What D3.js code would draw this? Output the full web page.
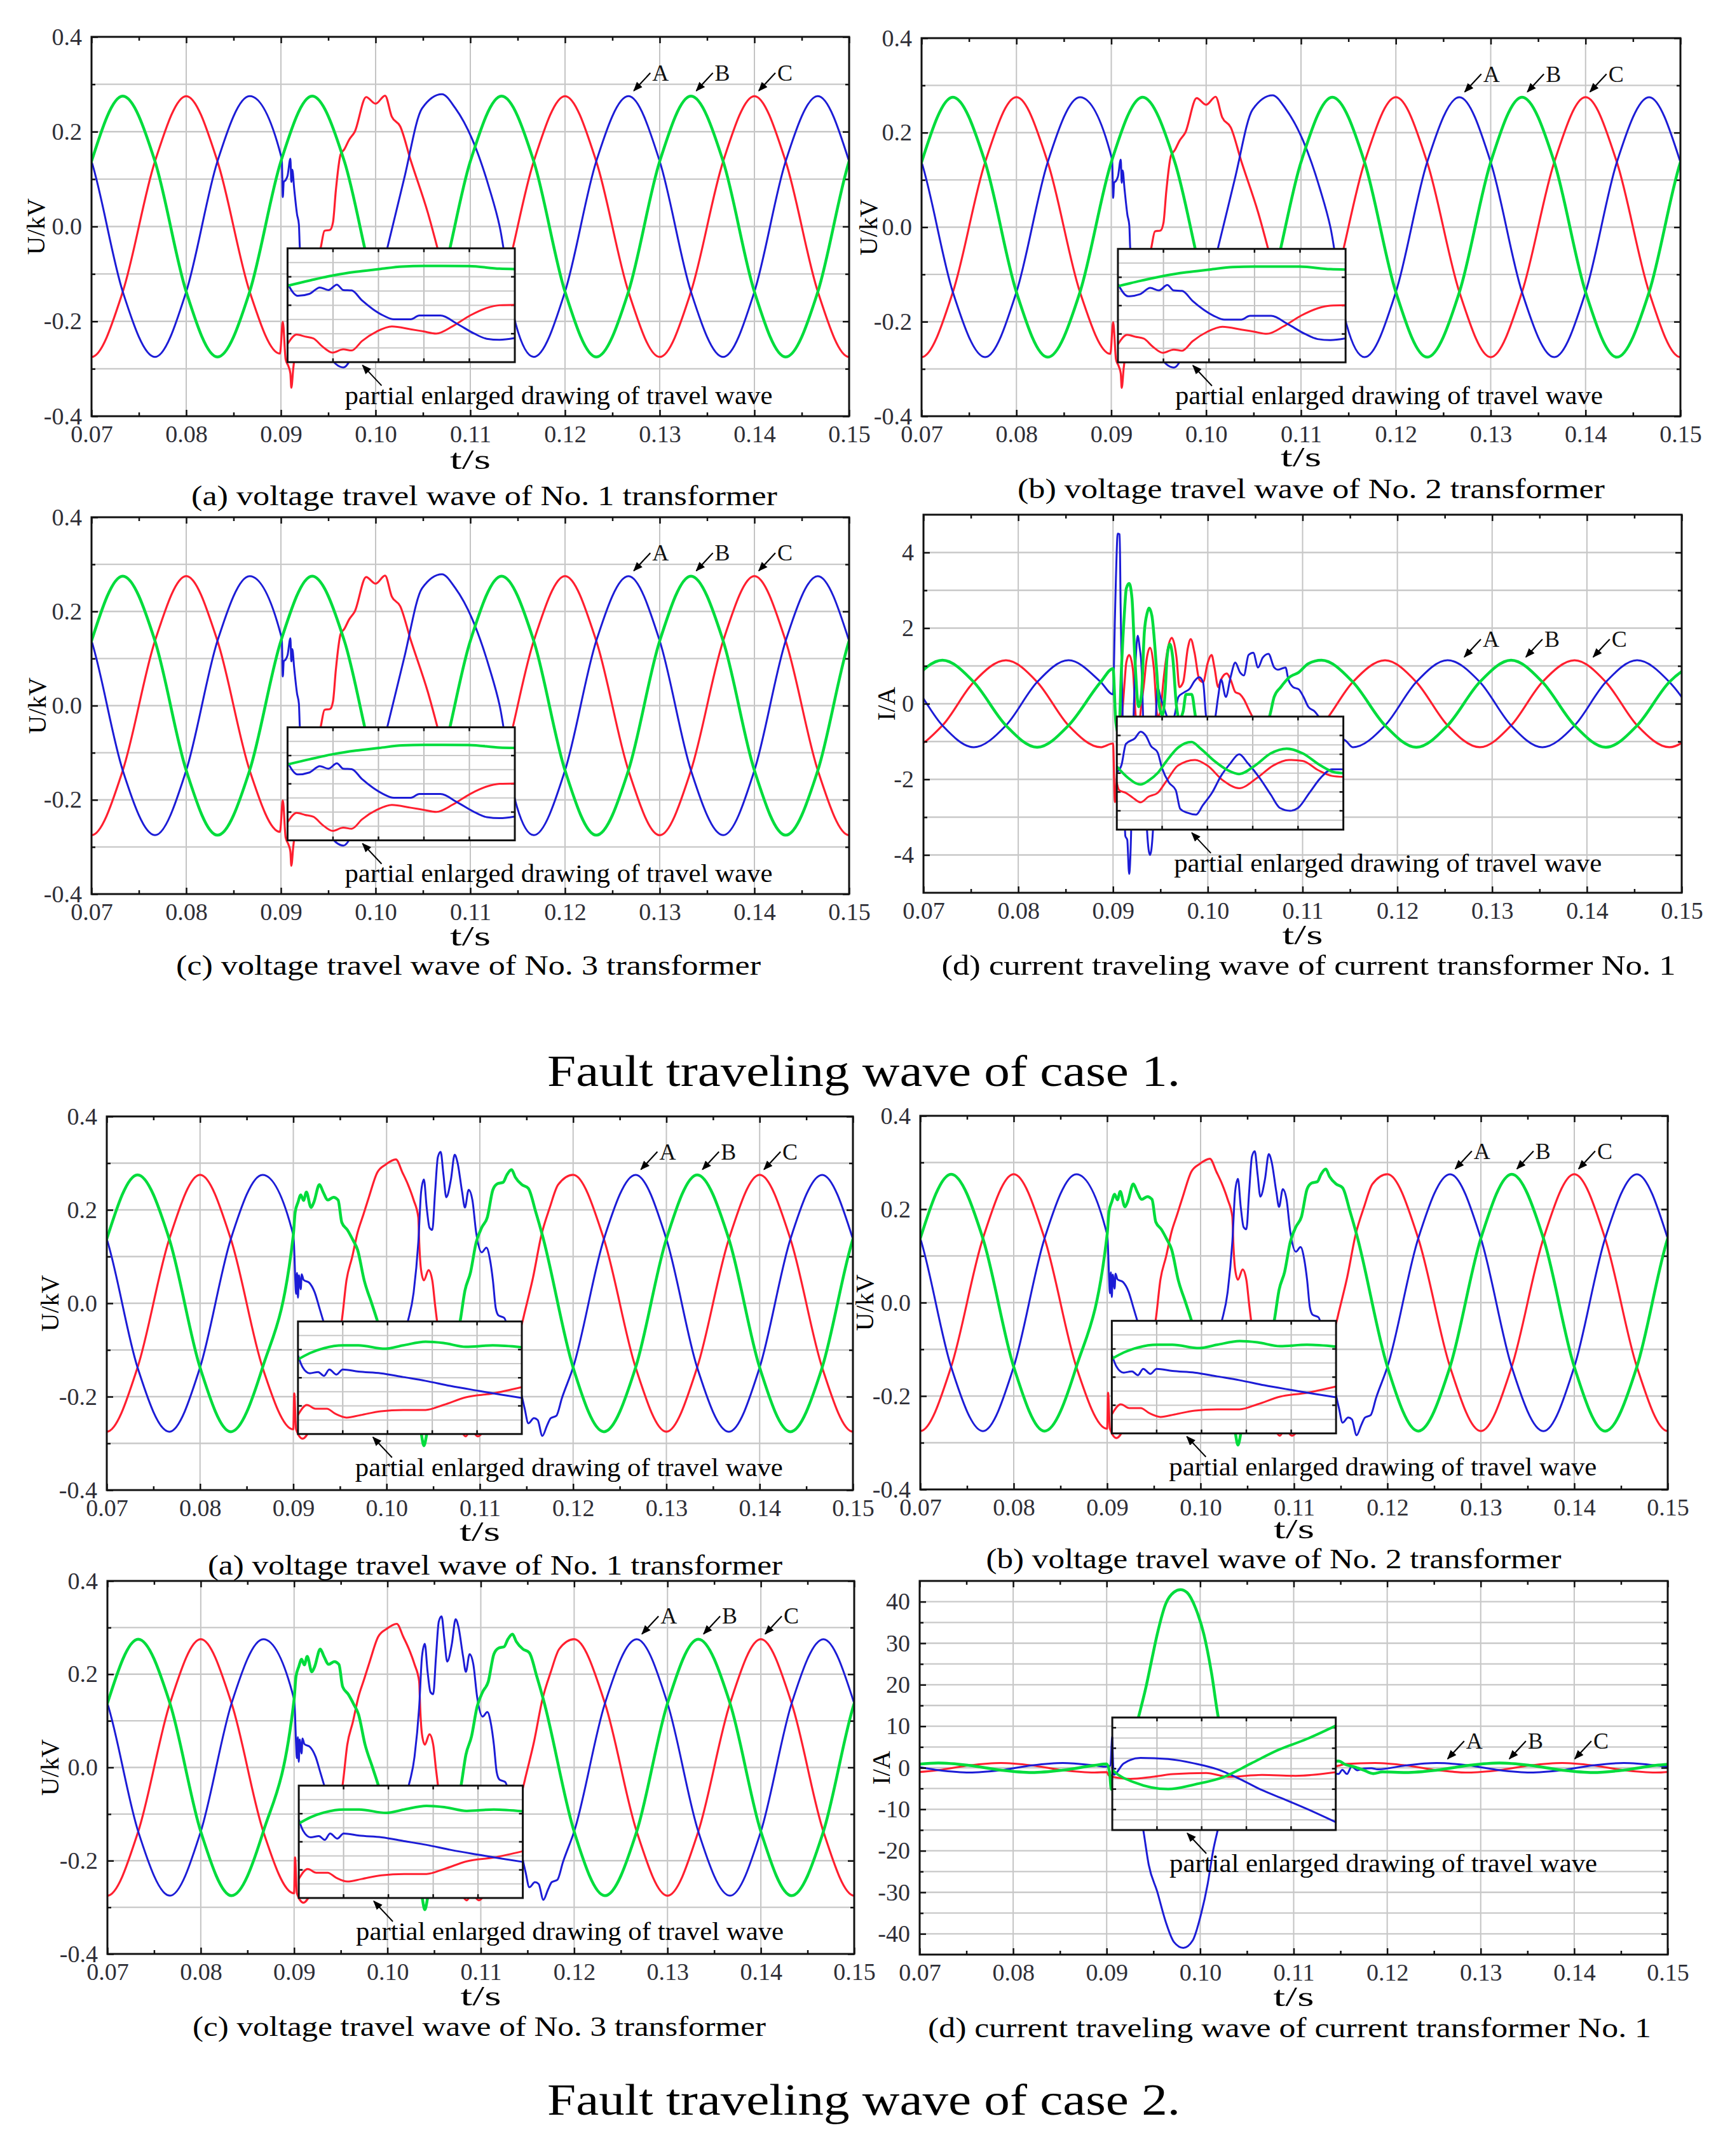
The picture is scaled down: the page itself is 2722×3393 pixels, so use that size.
<!DOCTYPE html>
<html>
<head>
<meta charset="utf-8">
<script src="https://cdn.jsdelivr.net/npm/d3@7"></script>
<style>
html, body { margin: 0; padding: 0; background: #fff; }
svg { display: block; }
</style>
</head>
<body>
<svg id="fig"></svg>
<script>
// ---- axis ticks ----
var timeTicks = [0.07, 0.08, 0.09, 0.10, 0.11, 0.12, 0.13, 0.14, 0.15];
var timeMinor = [0.075, 0.085, 0.095, 0.105, 0.115, 0.125, 0.135, 0.145];
var voltTicks = [-0.4, -0.2, 0.0, 0.2, 0.4];
var voltMinor = [-0.3, -0.1, 0.1, 0.3];
var voltGrid = [-0.3, -0.2, -0.1, 0.0, 0.1, 0.2, 0.3];
var cur1Ticks = [-4, -2, 0, 2, 4];
var cur1Minor = [-3, -1, 1, 3];
var cur1Grid = [-4, -3, -2, -1, 0, 1, 2, 3, 4];
var cur2Ticks = [-40, -30, -20, -10, 0, 10, 20, 30, 40];
var cur2Minor = [-35, -25, -15, -5, 5, 15, 25, 35];
var cur2Grid = [-40, -35, -30, -25, -20, -15, -10, -5, 0, 5, 10, 15, 20, 25, 30, 35, 40];
var insetCols = [0.2, 0.4, 0.6, 0.8];

// ---- phase labels (A = blue, B = green, C = red) ----
var phaseNames = ["A", "B", "C"];
var voltLabelT = [0.1272, 0.1338, 0.1404];
var voltLabelV = 0.285;
var cur1LabelT = [0.127, 0.1335, 0.1406];
var cur1LabelV = 1.22;
var cur2LabelT = [0.1264, 0.133, 0.14];
var cur2LabelV = 2.0;

// ---- voltage, normal sections [t, kV] ----
var voltPreA = [[0.0667,0.275],[0.07,0.1375],[0.0733,-0.1375],[0.0767,-0.275],[0.08,-0.1375],[0.0833,0.1375],[0.0867,0.275]];
var voltPreB = [[0.0667,-0.1375],[0.07,0.1375],[0.0733,0.275],[0.0767,0.1375],[0.08,-0.1375],[0.0833,-0.275],[0.0867,-0.1375]];
var voltPreC = [[0.0667,-0.1375],[0.07,-0.275],[0.0733,-0.1375],[0.0767,0.1375],[0.08,0.275],[0.0833,0.1375],[0.0867,-0.1375]];
var voltPostA = [[0.12,-0.1375],[0.1233,0.1375],[0.1267,0.275],[0.13,0.1375],[0.1333,-0.1375],[0.1367,-0.275],[0.14,-0.1375],[0.1433,0.1375],[0.1467,0.275],[0.15,0.1375],[0.1533,-0.1375]];
var voltPostB = [[0.12,-0.1375],[0.1233,-0.275],[0.1267,-0.1375],[0.13,0.1375],[0.1333,0.275],[0.1367,0.1375],[0.14,-0.1375],[0.1433,-0.275],[0.1467,-0.1375],[0.15,0.1375],[0.1533,0.275]];
var voltPostC = [[0.12,0.275],[0.1233,0.1375],[0.1267,-0.1375],[0.13,-0.275],[0.1333,-0.1375],[0.1367,0.1375],[0.14,0.275],[0.1433,0.1375],[0.1467,-0.1375],[0.15,-0.275],[0.1533,-0.1375]];

// ---- voltage, case 1 fault section ----
var c1VoltFaultA = [[0.09,0.15],[0.0901,0.138],[0.0902,0.062],[0.0903,0.094],[0.0905,0.098],[0.0907,0.107],[0.091,0.143],[0.0911,0.094],[0.0912,0.12],[0.0914,0.08],[0.0917,0.026],[0.0919,0.004],[0.092,-0.045],[0.0935,-0.2],[0.095,-0.27],[0.0966,-0.297],[0.0985,-0.22],[0.1,-0.14],[0.1013,-0.04],[0.103,0.1],[0.1049,0.249],[0.107,0.279],[0.1084,0.25],[0.1102,0.184],[0.112,0.081],[0.1131,0.0],[0.1148,-0.206],[0.1167,-0.275]];
var c1VoltFaultB = [[0.09,0.1375],[0.0933,0.275],[0.0967,0.1375],[0.1,-0.1375],[0.1033,-0.275],[0.1067,-0.1375],[0.11,0.1375],[0.1133,0.275],[0.1167,0.1375]];
var c1VoltFaultC = [[0.0899,-0.268],[0.0902,-0.201],[0.0905,-0.28],[0.0908,-0.295],[0.091,-0.31],[0.0911,-0.34],[0.0913,-0.3],[0.0925,-0.17],[0.0935,-0.09],[0.0942,-0.045],[0.0946,-0.009],[0.0952,-0.007],[0.0955,0.009],[0.0958,0.076],[0.0963,0.152],[0.0967,0.163],[0.0972,0.183],[0.0978,0.2],[0.099,0.273],[0.1,0.259],[0.101,0.276],[0.1017,0.232],[0.1026,0.211],[0.1037,0.14],[0.1055,0.03],[0.107,-0.08],[0.11,-0.275],[0.1133,-0.1375],[0.1167,0.1375]];

// ---- voltage, case 2 fault section ----
var c2VoltFaultA = [[0.09,0.146],[0.0901,0.114],[0.0902,0.055],[0.0903,0.02],[0.0904,0.065],[0.0905,0.012],[0.0906,0.06],[0.0908,0.03],[0.0909,0.062],[0.0911,0.05],[0.0917,0.044],[0.0923,0.023],[0.0928,-0.01],[0.0932,-0.037],[0.095,-0.15],[0.0967,-0.25],[0.099,-0.2],[0.101,-0.1],[0.1023,-0.037],[0.1029,0.023],[0.1034,0.13],[0.1037,0.238],[0.104,0.265],[0.1043,0.205],[0.1046,0.162],[0.1049,0.157],[0.1052,0.238],[0.1055,0.313],[0.1058,0.324],[0.1061,0.275],[0.1064,0.227],[0.1069,0.265],[0.1073,0.318],[0.1076,0.302],[0.1081,0.238],[0.1084,0.205],[0.1088,0.243],[0.1092,0.221],[0.1096,0.152],[0.1102,0.109],[0.1107,0.119],[0.1111,0.092],[0.1114,0.049],[0.1117,-0.01],[0.112,-0.026],[0.1126,-0.031],[0.1135,-0.1],[0.1143,-0.18],[0.1148,-0.225],[0.1152,-0.257],[0.1158,-0.246],[0.1162,-0.25],[0.1167,-0.284],[0.1172,-0.262],[0.1176,-0.246],[0.1182,-0.241],[0.1188,-0.203]];
var c2VoltFaultB = [[0.09,0.146],[0.0902,0.195],[0.0905,0.216],[0.0908,0.232],[0.0911,0.22],[0.0914,0.238],[0.0919,0.205],[0.0922,0.216],[0.0928,0.254],[0.0932,0.238],[0.0937,0.221],[0.0943,0.227],[0.0948,0.221],[0.0952,0.173],[0.0958,0.157],[0.0964,0.135],[0.0969,0.114],[0.0976,0.049],[0.0984,0.0],[0.099,-0.037],[0.1005,-0.15],[0.102,-0.25],[0.1036,-0.27],[0.104,-0.305],[0.1044,-0.27],[0.106,-0.2],[0.107,-0.12],[0.1079,-0.037],[0.1084,0.027],[0.109,0.066],[0.1096,0.13],[0.1102,0.162],[0.1108,0.184],[0.1114,0.243],[0.1119,0.256],[0.1125,0.259],[0.1129,0.275],[0.1134,0.286],[0.1138,0.27],[0.1145,0.254],[0.1152,0.246],[0.116,0.195],[0.1167,0.146]];
var c2VoltFaultC = [[0.09,-0.27],[0.0901,-0.193],[0.0903,-0.27],[0.091,-0.29],[0.092,-0.26],[0.094,-0.12],[0.0952,-0.037],[0.0957,0.049],[0.0963,0.098],[0.0969,0.152],[0.0975,0.189],[0.0981,0.227],[0.099,0.28],[0.0999,0.297],[0.101,0.308],[0.1017,0.28],[0.1023,0.254],[0.1029,0.221],[0.1034,0.184],[0.1035,0.13],[0.1037,0.071],[0.104,0.049],[0.1045,0.071],[0.1049,0.049],[0.1052,-0.004],[0.1054,-0.037],[0.107,-0.2],[0.1085,-0.285],[0.109,-0.27],[0.1098,-0.285],[0.1105,-0.27],[0.112,-0.2],[0.1135,-0.1],[0.1146,-0.037],[0.1148,-0.02],[0.1157,0.055],[0.1166,0.146],[0.1175,0.205],[0.1184,0.254]];

// ---- current, normal sections [t, A] ----
var curPreA = [[0.0653,1.15],[0.0687,0.575],[0.072,-0.575],[0.0753,-1.15],[0.0787,-0.575],[0.082,0.575],[0.0853,1.15],[0.0887,0.575]];
var curPreB = [[0.0653,-0.575],[0.0687,0.575],[0.072,1.15],[0.0753,0.575],[0.0787,-0.575],[0.082,-1.15],[0.0853,-0.575],[0.0887,0.575]];
var curPreC = [[0.0653,-0.575],[0.0687,-1.15],[0.072,-0.575],[0.0753,0.575],[0.0787,1.15],[0.082,0.575],[0.0853,-0.575],[0.0887,-1.15]];
var curPostA = [[0.1153,-1.15],[0.1187,-0.575],[0.122,0.575],[0.1253,1.15],[0.1287,0.575],[0.132,-0.575],[0.1353,-1.15],[0.1387,-0.575],[0.142,0.575],[0.1453,1.15],[0.1487,0.575],[0.152,-0.575]];
var curPostB = [[0.112,1.15],[0.1153,0.575],[0.1187,-0.575],[0.122,-1.15],[0.1253,-0.575],[0.1287,0.575],[0.132,1.15],[0.1353,0.575],[0.1387,-0.575],[0.142,-1.15],[0.1453,-0.575],[0.1487,0.575],[0.152,1.15]];
var curPostC = [[0.112,-0.575],[0.1153,0.575],[0.1187,1.15],[0.122,0.575],[0.1253,-0.575],[0.1287,-1.15],[0.132,-0.575],[0.1353,0.575],[0.1387,1.15],[0.142,0.575],[0.1453,-0.575],[0.1487,-1.15],[0.152,-0.575]];

// ---- current, case 1 fault section ----
var c1CurFaultA = [[0.09,0.25],[0.0902,2.27],[0.0903,3.27],[0.0905,4.5],[0.0907,4.48],[0.0908,2.6],[0.0909,1.1],[0.0911,-1.5],[0.0913,-3.5],[0.0915,-3.6],[0.0917,-4.5],[0.0919,-3.5],[0.0921,-1],[0.0924,1.2],[0.0926,1.8],[0.0928,1.5],[0.093,1.0],[0.0933,-1.5],[0.0936,-3.4],[0.0939,-4.0],[0.0942,-3.4],[0.0945,-0.5],[0.0947,0.44],[0.095,0.18],[0.0955,-0.2],[0.096,-0.5],[0.0965,-0.3],[0.0969,0.18],[0.0975,0.3],[0.0981,0.4],[0.0986,0.6],[0.0991,0.7],[0.0995,0.57],[0.0998,-0.3],[0.1002,-0.8],[0.1007,-0.5],[0.1011,0.2],[0.1014,0.64],[0.1019,0.18],[0.1024,0.7],[0.1029,1.09],[0.1034,0.83],[0.1038,0.75],[0.1043,1.29],[0.1048,1.35],[0.1053,0.96],[0.1058,1.22],[0.1064,1.32],[0.107,0.96],[0.1074,0.9],[0.1082,0.96],[0.1085,0.64],[0.109,0.44],[0.1096,0.38],[0.1101,0.18],[0.1106,-0.08],[0.1113,-0.21],[0.1117,-0.34],[0.1128,-0.7],[0.1146,-0.99]];
var c1CurFaultB = [[0.09,0.93],[0.0903,-0.5],[0.0906,-0.8],[0.0909,1.0],[0.0912,2.4],[0.0914,3.05],[0.0917,3.18],[0.092,2.79],[0.0923,1.22],[0.0927,-0.08],[0.093,0.25],[0.0933,1.88],[0.0936,2.4],[0.0938,2.53],[0.0941,2.33],[0.0946,0.9],[0.0949,-0.08],[0.0952,-0.3],[0.0955,0.3],[0.0957,1.22],[0.096,1.58],[0.0963,1.22],[0.0967,-0.08],[0.097,-0.4],[0.0974,-0.2],[0.0977,0.25],[0.0983,0.25],[0.0987,-0.34],[0.0995,-0.9],[0.102,-1.4],[0.1045,-1.0],[0.1065,-0.34],[0.107,0.18],[0.1077,0.44],[0.1086,0.7],[0.1096,0.83],[0.1106,1.06]];
var c1CurFaultC = [[0.09,-1.05],[0.0902,-2.6],[0.0905,-1.5],[0.0909,-0.5],[0.0912,0.5],[0.0914,1.09],[0.0917,1.29],[0.0921,0.9],[0.0924,-0.34],[0.0927,-0.6],[0.093,0.0],[0.0933,0.6],[0.0935,1.09],[0.0939,1.48],[0.0943,0.96],[0.0947,-0.34],[0.095,-0.2],[0.0953,0.57],[0.0958,1.48],[0.0962,1.74],[0.0967,1.22],[0.097,0.44],[0.0974,0.57],[0.0979,1.48],[0.0982,1.71],[0.0986,1.35],[0.0991,0.64],[0.0995,0.57],[0.1,1.09],[0.1004,1.29],[0.1007,0.96],[0.1011,0.44],[0.1014,0.64],[0.102,0.8],[0.1024,0.64],[0.1029,0.31],[0.1034,0.25],[0.1038,0.12],[0.1043,-0.14],[0.1047,-0.34],[0.107,-0.9],[0.109,-1.1],[0.1105,-0.9]];

// ---- current, case 2 fault section ----
var c2CurFaultA = [[0.09,0.25],[0.0904,0.5],[0.0906,7.6],[0.0908,5],[0.092,6],[0.093,-5],[0.0939,-14.8],[0.0945,-23.4],[0.0954,-29.8],[0.0963,-37],[0.0972,-42],[0.0982,-43.4],[0.0992,-41.6],[0.1001,-35.2],[0.1008,-28],[0.1014,-19.8],[0.1019,-14.8],[0.103,-5],[0.107,-1],[0.111,-0.5],[0.1148,-1.5],[0.1152,-0.5],[0.1157,-1.5],[0.1162,0.3],[0.1168,-0.6],[0.1175,-0.2],[0.1183,-0.1],[0.119,-0.4]];
var c2CurFaultB = [[0.09,0.93],[0.0903,-1],[0.0905,-5.2],[0.0908,-4],[0.0915,0],[0.0925,5],[0.0936,13.9],[0.0942,19.4],[0.0948,25.8],[0.0954,32.1],[0.0963,39.4],[0.0972,42.3],[0.0979,42.9],[0.0986,42.2],[0.0995,38.5],[0.1004,32.1],[0.1012,23],[0.1019,12.6],[0.103,3],[0.107,-0.5],[0.111,0.5],[0.1148,1.6],[0.1155,0.8],[0.1165,0.2],[0.1175,-0.6],[0.1185,-1.4],[0.1195,-1.0]];
var c2CurFaultC = [[0.09,-1.05],[0.0903,-2],[0.091,-1.5],[0.095,-2],[0.1,-1.2],[0.105,-1.5],[0.11,-1],[0.1148,0.5],[0.1155,0.9]];

// ---- insets: [fraction of width, grid units from bottom] ----
var inC1VoltA = [[0,5.52],[0.045,4.66],[0.096,4.8],[0.142,5.25],[0.18,5.07],[0.217,5.45],[0.245,5.07],[0.282,5.04],[0.328,4.33],[0.375,3.73],[0.421,3.28],[0.468,3.01],[0.542,3.01],[0.58,3.28],[0.673,3.28],[0.747,2.69],[0.821,2.01],[0.877,1.64],[0.933,1.57],[1,1.69]];
var inC1VoltB = [[0,5.37],[0.1,5.75],[0.207,6.12],[0.3,6.35],[0.403,6.54],[0.505,6.72],[0.6,6.76],[0.798,6.75],[0.933,6.57],[1,6.54]];
var inC1VoltC = [[0,1.27],[0.04,1.94],[0.077,1.8],[0.114,1.67],[0.152,1.12],[0.198,0.67],[0.245,0.9],[0.282,0.82],[0.328,1.49],[0.393,2.16],[0.459,2.51],[0.542,2.31],[0.598,2.16],[0.654,2.01],[0.728,2.54],[0.803,3.28],[0.877,3.81],[0.933,4.0],[1,4.03]];
var inC1CurA = [[0,6.1],[0.02,6.8],[0.04,9.1],[0.08,9.7],[0.105,10.4],[0.13,9.9],[0.15,8.9],[0.18,8.2],[0.2,6.5],[0.23,5.0],[0.26,4.2],[0.28,2.2],[0.31,1.8],[0.35,1.6],[0.38,2.6],[0.42,3.9],[0.46,5.7],[0.5,7.0],[0.54,8.0],[0.58,7.0],[0.63,5.5],[0.68,3.7],[0.72,2.3],[0.765,2.0],[0.8,2.3],[0.85,3.9],[0.9,5.5],[0.95,6.4],[1,6.4]];
var inC1CurB = [[0,6.7],[0.04,5.7],[0.105,4.8],[0.14,5.2],[0.18,6.0],[0.22,7.3],[0.27,8.7],[0.33,9.3],[0.37,8.6],[0.43,7.3],[0.49,6.3],[0.54,5.9],[0.61,6.8],[0.68,8.1],[0.75,8.6],[0.82,8.1],[0.9,6.8],[0.96,6.1],[1,6.0]];
var inC1CurC = [[0,5.0],[0.01,4.2],[0.04,3.9],[0.07,3.4],[0.105,2.9],[0.14,3.5],[0.18,3.9],[0.22,5.2],[0.27,6.8],[0.345,7.4],[0.4,6.8],[0.47,5.2],[0.54,4.4],[0.62,5.5],[0.69,6.8],[0.76,7.4],[0.82,7.3],[0.89,6.3],[0.95,5.7],[1,5.6]];
var inC2VoltA = [[0,5.58],[0.02,4.77],[0.053,4.32],[0.09,4.41],[0.116,4.14],[0.14,4.59],[0.172,4.23],[0.2,4.59],[0.27,4.44],[0.37,4.32],[0.47,4.05],[0.57,3.78],[0.68,3.42],[0.81,3.06],[0.91,2.79],[1,2.57]];
var inC2VoltB = [[0,5.3],[0.053,5.75],[0.116,6.1],[0.2,6.3],[0.27,6.3],[0.39,6.06],[0.47,6.3],[0.57,6.56],[0.65,6.47],[0.75,6.2],[0.87,6.3],[1,6.17]];
var inC2VoltC = [[0,1.35],[0.04,2.07],[0.078,1.8],[0.129,1.8],[0.167,1.44],[0.217,1.17],[0.28,1.35],[0.37,1.62],[0.47,1.71],[0.57,1.71],[0.65,2.07],[0.75,2.61],[0.87,2.88],[1,3.33]];
var inC2CurA = [[0,9.1],[0.007,5.4],[0.05,6.5],[0.126,7.05],[0.25,6.94],[0.37,6.5],[0.47,5.94],[0.57,5.0],[0.67,3.9],[0.77,3.0],[0.87,2.07],[1,0.77]];
var inC2CurB = [[0,5.9],[0.007,5.75],[0.1,4.65],[0.25,4.0],[0.37,4.46],[0.5,5.2],[0.62,6.5],[0.74,7.8],[0.87,8.9],[1,10.2]];
var inC2CurC = [[0,5.2],[0.08,5.0],[0.18,5.2],[0.27,5.46],[0.42,5.57],[0.52,5.2],[0.67,5.39],[0.82,5.3],[1,5.65]];

// ---------------------------------------------------------------
var W = 2722, H = 3393;
var FONT = "'Liberation Serif', 'Times New Roman', serif";
var COL = { A: "#1c1cd6", B: "#00dc3c", C: "#ff1f2f" };
var LW = { A: 3, B: 4.5, C: 3.2 };

function series(a, b, c) {
	return [{ phase: "C", data: c }, { phase: "A", data: a }, { phase: "B", data: b }];
}

var fmtVolt = function (d) { return d.toFixed(1); };
var fmtCur = function (d) { return String(d); };

var c1Volt = {
	yDomain: [-0.4, 0.4], yTicks: voltTicks, yMinor: voltMinor, grid: voltGrid, fmt: fmtVolt, ylab: "U/kV",
	series: series(voltPreA.concat(c1VoltFaultA, voltPostA), voltPreB.concat(c1VoltFaultB, voltPostB), voltPreC.concat(c1VoltFaultC, voltPostC)),
	inset: { box: [0.0907, 0.1147, -0.286, -0.046], div: 8, series: series(inC1VoltA, inC1VoltB, inC1VoltC) },
	labelT: voltLabelT, labelV: voltLabelV
};
var c1Cur = {
	yDomain: [-5, 5], yTicks: cur1Ticks, yMinor: cur1Minor, grid: cur1Grid, fmt: fmtCur, ylab: "I/A",
	series: series(curPreA.concat(c1CurFaultA, curPostA), curPreB.concat(c1CurFaultB, curPostB), curPreC.concat(c1CurFaultC, curPostC)),
	inset: { box: [0.0904, 0.1143, -3.33, -0.34], div: 12, series: series(inC1CurA, inC1CurB, inC1CurC) },
	labelT: cur1LabelT, labelV: cur1LabelV
};
var c2Volt = {
	yDomain: [-0.4, 0.4], yTicks: voltTicks, yMinor: voltMinor, grid: voltGrid, fmt: fmtVolt, ylab: "U/kV",
	series: series(voltPreA.concat(c2VoltFaultA, voltPostA), voltPreB.concat(c2VoltFaultB, voltPostB), voltPreC.concat(c2VoltFaultC, voltPostC)),
	inset: { box: [0.0905, 0.1145, -0.28, -0.039], div: 8, series: series(inC2VoltA, inC2VoltB, inC2VoltC) },
	labelT: voltLabelT, labelV: voltLabelV
};
var c2Cur = {
	yDomain: [-45, 45], yTicks: cur2Ticks, yMinor: cur2Minor, grid: cur2Grid, fmt: fmtCur, ylab: "I/A",
	series: series(
		curPreA.concat(c2CurFaultA, curPostA.filter(function (d) { return d[0] >= 0.122; })),
		curPreB.concat(c2CurFaultB, curPostB.filter(function (d) { return d[0] >= 0.122; })),
		curPreC.concat(c2CurFaultC, curPostC.filter(function (d) { return d[0] >= 0.1187; }))),
	inset: { box: [0.0906, 0.1145, -15, 12.1], div: 11, series: series(inC2CurA, inC2CurB, inC2CurC) },
	labelT: cur2LabelT, labelV: cur2LabelV
};

var panels = [
	{ k: c1Volt, x0: 144, x1: 1336, y0: 58, y1: 655, yl: 56, ts: 83, cap: "(a) voltage travel wave of No. 1 transformer", cx: 762, cy: 795, cw: 922 },
	{ k: c1Volt, x0: 1450, x1: 2644, y0: 60, y1: 655, yl: 1366, ts: 79, cap: "(b) voltage travel wave of No. 2 transformer", cx: 2063, cy: 784, cw: 924 },
	{ k: c1Volt, x0: 144, x1: 1336, y0: 814, y1: 1407, yl: 58, ts: 81, cap: "(c) voltage travel wave of No. 3 transformer", cx: 737, cy: 1534, cw: 920 },
	{ k: c1Cur, x0: 1453, x1: 2646, y0: 810, y1: 1405, yl: 1394, ts: 81, cap: "(d) current traveling wave of current transformer No. 1", cx: 2059, cy: 1534, cw: 1155 },
	{ k: c2Volt, x0: 168, x1: 1342, y0: 1757, y1: 2345, yl: 78, ts: 80, cap: "(a) voltage travel wave of No. 1 transformer", cx: 779, cy: 2478, cw: 904 },
	{ k: c2Volt, x0: 1448, x1: 2624, y0: 1756, y1: 2344, yl: 1360, ts: 77, cap: "(b) voltage travel wave of No. 2 transformer", cx: 2004, cy: 2468, cw: 905 },
	{ k: c2Volt, x0: 169, x1: 1344, y0: 2488, y1: 3075, yl: 78, ts: 81, cap: "(c) voltage travel wave of No. 3 transformer", cx: 754, cy: 3204, cw: 902 },
	{ k: c2Cur, x0: 1447, x1: 2624, y0: 2488, y1: 3076, yl: 1386, ts: 81, cap: "(d) current traveling wave of current transformer No. 1", cx: 2029, cy: 3206, cw: 1138 }
];

var svg = d3.select("#fig").attr("width", W).attr("height", H);
svg.append("rect").attr("width", W).attr("height", H).attr("fill", "#fff");
var defs = svg.append("defs");
defs.append("marker").attr("id", "arrowHead").attr("viewBox", "0 0 10 10")
	.attr("refX", 9).attr("refY", 5).attr("markerUnits", "userSpaceOnUse")
	.attr("markerWidth", 15).attr("markerHeight", 15).attr("orient", "auto")
	.append("path").attr("d", "M0,1L10,5L0,9z").attr("fill", "#000");

function styleAxis(sel, withText) {
	sel.select(".domain").remove();
	sel.selectAll(".tick line").attr("stroke", "#111").attr("stroke-width", 2.5);
	sel.attr("font-family", FONT).attr("font-size", 38);
	sel.selectAll(".tick text").attr("fill", "#2e2e36");
	if (!withText) sel.selectAll(".tick text").remove();
}

function drawPanel(p, idx) {
	var k = p.k;
	var x = d3.scaleLinear().domain([0.07, 0.15]).range([p.x0, p.x1]);
	var y = d3.scaleLinear().domain(k.yDomain).range([p.y1, p.y0]);
	var g = svg.append("g");

	// grid
	g.selectAll(".vgrid").data(timeTicks.slice(1, -1)).enter().append("line")
		.attr("x1", function (d) { return x(d); }).attr("x2", function (d) { return x(d); })
		.attr("y1", p.y0).attr("y2", p.y1).attr("stroke", "#c4c4c4").attr("stroke-width", 2);
	g.selectAll(".hgrid").data(k.grid).enter().append("line")
		.attr("x1", p.x0).attr("x2", p.x1)
		.attr("y1", function (d) { return y(d); }).attr("y2", function (d) { return y(d); })
		.attr("stroke", "#c8c8c8").attr("stroke-width", 2.4);

	// waves
	var cid = "plotClip" + idx;
	defs.append("clipPath").attr("id", cid).append("rect")
		.attr("x", p.x0).attr("y", p.y0).attr("width", p.x1 - p.x0).attr("height", p.y1 - p.y0);
	var line = d3.line().x(function (d) { return x(d[0]); }).y(function (d) { return y(d[1]); }).curve(d3.curveMonotoneX);
	g.append("g").attr("clip-path", "url(#" + cid + ")")
		.selectAll("path").data(k.series).enter().append("path")
		.attr("d", function (s) { return line(s.data); })
		.attr("fill", "none").attr("stroke", function (s) { return COL[s.phase]; })
		.attr("stroke-width", function (s) { return LW[s.phase]; })
		.attr("stroke-linejoin", "round");

	// inset (partial enlarged drawing)
	var ins = k.inset;
	var L = x(ins.box[0]), R = x(ins.box[1]), T = y(ins.box[3]), B = y(ins.box[2]);
	var ig = g.append("g");
	ig.append("rect").attr("x", L).attr("y", T).attr("width", R - L).attr("height", B - T).attr("fill", "#fff");
	var ix = d3.scaleLinear().domain([0, 1]).range([L, R]);
	var iy = d3.scaleLinear().domain([0, ins.div]).range([B, T]);
	var rows = d3.range(1, ins.div);
	ig.selectAll(".ivg").data(insetCols).enter().append("line")
		.attr("x1", function (d) { return ix(d); }).attr("x2", function (d) { return ix(d); })
		.attr("y1", T).attr("y2", B).attr("stroke", "#bdbdbd").attr("stroke-width", 2);
	ig.selectAll(".ihg").data(rows).enter().append("line")
		.attr("x1", L).attr("x2", R)
		.attr("y1", function (d) { return iy(d); }).attr("y2", function (d) { return iy(d); })
		.attr("stroke", "#c8c8c8").attr("stroke-width", 2);
	insetCols.forEach(function (d) {
		ig.append("line").attr("x1", ix(d)).attr("x2", ix(d)).attr("y1", T).attr("y2", T + 6).attr("stroke", "#111").attr("stroke-width", 2.5);
		ig.append("line").attr("x1", ix(d)).attr("x2", ix(d)).attr("y1", B).attr("y2", B - 6).attr("stroke", "#111").attr("stroke-width", 2.5);
	});
	rows.filter(function (d) { return d % 2 === 0; }).forEach(function (d) {
		ig.append("line").attr("x1", L).attr("x2", L + 6).attr("y1", iy(d)).attr("y2", iy(d)).attr("stroke", "#111").attr("stroke-width", 2.5);
		ig.append("line").attr("x1", R).attr("x2", R - 6).attr("y1", iy(d)).attr("y2", iy(d)).attr("stroke", "#111").attr("stroke-width", 2.5);
	});
	var icid = "insetClip" + idx;
	defs.append("clipPath").attr("id", icid).append("rect")
		.attr("x", L).attr("y", T).attr("width", R - L).attr("height", B - T);
	var iline = d3.line().x(function (d) { return ix(d[0]); }).y(function (d) { return iy(d[1]); }).curve(d3.curveMonotoneX);
	ig.append("g").attr("clip-path", "url(#" + icid + ")")
		.selectAll("path").data(ins.series).enter().append("path")
		.attr("d", function (s) { return iline(s.data); })
		.attr("fill", "none").attr("stroke", function (s) { return COL[s.phase]; })
		.attr("stroke-width", function (s) { return s.phase === "B" ? 4 : 3; })
		.attr("stroke-linejoin", "round");
	ig.append("rect").attr("x", L).attr("y", T).attr("width", R - L).attr("height", B - T)
		.attr("fill", "none").attr("stroke", "#111").attr("stroke-width", 3);
	ig.append("line").attr("x1", L + 148).attr("y1", B + 37).attr("x2", L + 118).attr("y2", B + 5)
		.attr("stroke", "#000").attr("stroke-width", 2).attr("marker-end", "url(#arrowHead)");
	ig.append("text").attr("x", L + 90).attr("y", B + 66)
		.attr("font-family", FONT).attr("font-size", 40).attr("fill", "#000")
		.attr("textLength", 673).attr("lengthAdjust", "spacingAndGlyphs")
		.text("partial enlarged drawing of travel wave");

	// frame
	g.append("rect").attr("x", p.x0).attr("y", p.y0).attr("width", p.x1 - p.x0).attr("height", p.y1 - p.y0)
		.attr("fill", "none").attr("stroke", "#111").attr("stroke-width", 3);

	// axes
	g.append("g").attr("transform", "translate(0," + p.y1 + ")")
		.call(d3.axisBottom(x).tickValues(timeTicks).tickSizeInner(-10).tickSizeOuter(0).tickPadding(14)
			.tickFormat(function (d) { return d.toFixed(2); }))
		.call(styleAxis, true);
	g.append("g").attr("transform", "translate(0," + p.y1 + ")")
		.call(d3.axisBottom(x).tickValues(timeMinor).tickSizeInner(-6).tickSizeOuter(0)).call(styleAxis, false);
	g.append("g").attr("transform", "translate(0," + p.y0 + ")")
		.call(d3.axisTop(x).tickValues(timeTicks).tickSizeInner(-10).tickSizeOuter(0)).call(styleAxis, false);
	g.append("g").attr("transform", "translate(0," + p.y0 + ")")
		.call(d3.axisTop(x).tickValues(timeMinor).tickSizeInner(-6).tickSizeOuter(0)).call(styleAxis, false);
	g.append("g").attr("transform", "translate(" + p.x0 + ",0)")
		.call(d3.axisLeft(y).tickValues(k.yTicks).tickSizeInner(-10).tickSizeOuter(0).tickPadding(15).tickFormat(k.fmt))
		.call(styleAxis, true);
	g.append("g").attr("transform", "translate(" + p.x0 + ",0)")
		.call(d3.axisLeft(y).tickValues(k.yMinor).tickSizeInner(-6).tickSizeOuter(0)).call(styleAxis, false);
	g.append("g").attr("transform", "translate(" + p.x1 + ",0)")
		.call(d3.axisRight(y).tickValues(k.yTicks).tickSizeInner(-10).tickSizeOuter(0)).call(styleAxis, false);
	g.append("g").attr("transform", "translate(" + p.x1 + ",0)")
		.call(d3.axisRight(y).tickValues(k.yMinor).tickSizeInner(-6).tickSizeOuter(0)).call(styleAxis, false);

	// A / B / C markers
	k.labelT.forEach(function (t, i) {
		var tx = x(t), ty = y(k.labelV);
		g.append("line").attr("x1", tx + 27).attr("y1", ty - 29).attr("x2", tx + 1).attr("y2", ty - 1)
			.attr("stroke", "#000").attr("stroke-width", 2.2).attr("marker-end", "url(#arrowHead)");
		g.append("text").attr("x", tx + 30).attr("y", ty - 17)
			.attr("font-family", FONT).attr("font-size", 36).attr("fill", "#111").text(phaseNames[i]);
	});

	// labels
	g.append("text").attr("x", (p.x0 + p.x1) / 2).attr("y", p.y1 + p.ts)
		.attr("text-anchor", "middle").attr("font-family", FONT).attr("font-size", 44).attr("fill", "#000")
		.attr("textLength", 64).attr("lengthAdjust", "spacingAndGlyphs").text("t/s");
	g.append("text").attr("transform", "translate(" + p.yl + "," + ((p.y0 + p.y1) / 2) + ") rotate(-90)")
		.attr("text-anchor", "middle").attr("dy", "0.35em").attr("font-family", FONT).attr("font-size", 40)
		.attr("fill", "#000").text(k.ylab);
	g.append("text").attr("x", p.cx).attr("y", p.cy).attr("text-anchor", "middle")
		.attr("font-family", FONT).attr("font-size", 44).attr("fill", "#000")
		.attr("textLength", p.cw).attr("lengthAdjust", "spacingAndGlyphs").text(p.cap);
}

panels.forEach(drawPanel);

// figure titles
[["Fault traveling wave of case 1.", 1709], ["Fault traveling wave of case 2.", 3328]].forEach(function (t) {
	svg.append("text").attr("x", 1359).attr("y", t[1]).attr("text-anchor", "middle")
		.attr("font-family", FONT).attr("font-size", 70).attr("fill", "#000")
		.attr("textLength", 996).attr("lengthAdjust", "spacingAndGlyphs").text(t[0]);
});
</script>
</body>
</html>
